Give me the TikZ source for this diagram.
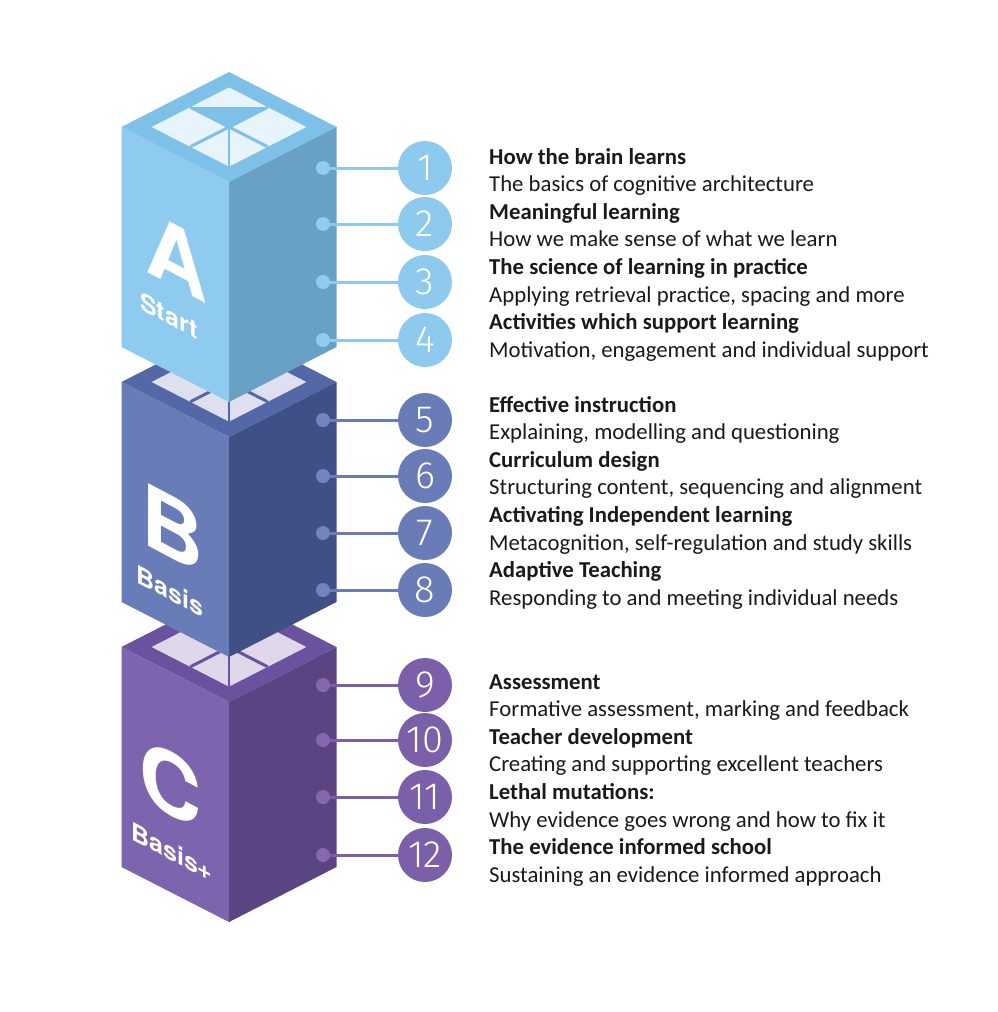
\documentclass[tikz,border=0pt]{standalone}
\usepackage{fontspec}
\setmainfont{Carlito}
\newfontfamily\heros{TeX Gyre Heros}
\newfontfamily\numfont{Fira Sans Light}
\definecolor{rimA}{HTML}{7DC0E8}
\definecolor{leftA}{HTML}{8ECBEE}
\definecolor{rightA}{HTML}{68A1C4}
\definecolor{tileA}{HTML}{E8F4FC}
\definecolor{rimB}{HTML}{5468A8}
\definecolor{leftB}{HTML}{687CB8}
\definecolor{rightB}{HTML}{3E5085}
\definecolor{tileB}{HTML}{DEE0F0}
\definecolor{rimC}{HTML}{6C529E}
\definecolor{leftC}{HTML}{7C64AE}
\definecolor{rightC}{HTML}{5A4482}
\definecolor{tileC}{HTML}{DED8EA}
\definecolor{circA}{HTML}{8DCAEE}
\definecolor{circB}{HTML}{6A7CB7}
\definecolor{circC}{HTML}{7B5FA9}
\definecolor{dotA}{HTML}{8FCCEF}
\definecolor{dotB}{HTML}{7283BE}
\definecolor{dotC}{HTML}{8668B1}
\definecolor{txt}{HTML}{1A1A1A}
\newcommand\isocube[5]{%
 \begin{scope}[shift={(229,#1)}]
  \fill[#2] (0,-55) -- (-107.5,0) -- (0,55) -- (107.5,0) -- cycle;
  \fill[#5] (0,-39.6) -- (-77.4,0) -- (0,39.6) -- (77.4,0) -- cycle;
  \fill[#2] (-38.7,-19.8) -- (38.7,-19.8) -- (0,0) -- cycle;
  \draw[#2, line width=3pt] (-38.7,-19.8) -- (38.7,19.8);
  \draw[#2, line width=3pt] (38.7,-19.8) -- (-38.7,19.8);
  \draw[#2, line width=2pt] (0,0) -- (0,39.6);
  \fill[#3] (-107.5,0) -- (0,55) -- (0,275) -- (-107.5,220) -- cycle;
  \fill[#4] (0,55) -- (107.5,0) -- (107.5,220) -- (0,275) -- cycle;
 \end{scope}}
\begin{document}
\begin{tikzpicture}[x=1pt,y=-1pt,
  bigletter/.style={font=\heros\bfseries\fontsize{86}{86}\selectfont, text=white, yslant=-0.53, inner sep=0pt, anchor=base west},
  facelabel/.style={font=\heros\bfseries\fontsize{25}{25}\selectfont, text=white, yslant=-0.53, inner sep=0pt, anchor=base west},
  numcirc/.style={circle, minimum size=54pt, inner sep=0pt, fill=#1, text=white, font=\numfont\fontsize{38}{38}\selectfont},
  facedot/.style={circle, minimum size=14pt, inner sep=0pt, fill=#1},
  link/.style={draw=#1, line width=3pt},
  title/.style={font=\bfseries\fontsize{22.75}{22.75}\selectfont, text=txt, inner sep=0pt, anchor=base west},
  sub/.style={font=\fontsize{22.75}{22.75}\selectfont, text=txt, inner sep=0pt, anchor=base west}]
\fill[white] (0,0) rectangle (998,1012);
\useasboundingbox (0,0) rectangle (998,1012);
% cubes, bottom first
\isocube{647}{rimC}{leftC}{rightC}{tileC}
\isocube{382}{rimB}{leftB}{rightB}{tileB}
\isocube{127}{rimA}{leftA}{rightA}{tileA}
% face letters
\node[bigletter] (LA) at (145,271) {A};
\node[facelabel] (SA) at (140,309) {Start};
\node[bigletter] (LB) at (141,542) {B};
\node[facelabel] (SB) at (136,582) {Basis};
\node[bigletter] (LC) at (139,798) {C};
\node[facelabel] (SC) at (131,839) {Basis+};
% dots, circles and links
\foreach \n/\y/\g in {1/168/A,2/224/A,3/282/A,4/340/A,5/420/B,6/476/B,7/533/B,8/590/B,9/685/C,10/740/C,11/797/C,12/855/C}{
  \node[facedot=dot\g] (d\n) at (323,\y) {};
  \node[numcirc=circ\g] (c\n) at (425,\y) {\n};
  \draw[link=circ\g] (d\n) -- (c\n);
}
% texts group A
\node[title] (t1) at (489,164) {How the brain learns};
\node[sub] (s1) at (489,191.6) {The basics of cognitive architecture};
\node[title] (t2) at (489,219.2) {Meaningful learning};
\node[sub] (s2) at (489,246.8) {How we make sense of what we learn};
\node[title] (t3) at (489,274.4) {The science of learning in practice};
\node[sub] (s3) at (489,302) {Applying retrieval practice, spacing and more};
\node[title] (t4) at (489,329.6) {Activities which support learning};
\node[sub] (s4) at (489,357.2) {Motivation, engagement and individual support};
% group B
\node[title] (t5) at (489,412) {Effective instruction};
\node[sub] (s5) at (489,439.6) {Explaining, modelling and questioning};
\node[title] (t6) at (489,467.2) {Curriculum design};
\node[sub] (s6) at (489,494.8) {Structuring content, sequencing and alignment};
\node[title] (t7) at (489,522.4) {Activating Independent learning};
\node[sub] (s7) at (489,550) {Metacognition, self-regulation and study skills};
\node[title] (t8) at (489,577.6) {Adaptive Teaching};
\node[sub] (s8) at (489,605.2) {Responding to and meeting individual needs};
% group C
\node[title] (t9) at (489,689) {Assessment};
\node[sub] (s9) at (489,716.6) {Formative assessment, marking and feedback};
\node[title] (t10) at (489,744.2) {Teacher development};
\node[sub] (s10) at (489,771.8) {Creating and supporting excellent teachers};
\node[title] (t11) at (489,799.4) {Lethal mutations:};
\node[sub] (s11) at (489,827) {Why evidence goes wrong and how to fix it};
\node[title] (t12) at (489,854.6) {The evidence informed school};
\node[sub] (s12) at (489,882.2) {Sustaining an evidence informed approach};
\end{tikzpicture}
\end{document}
